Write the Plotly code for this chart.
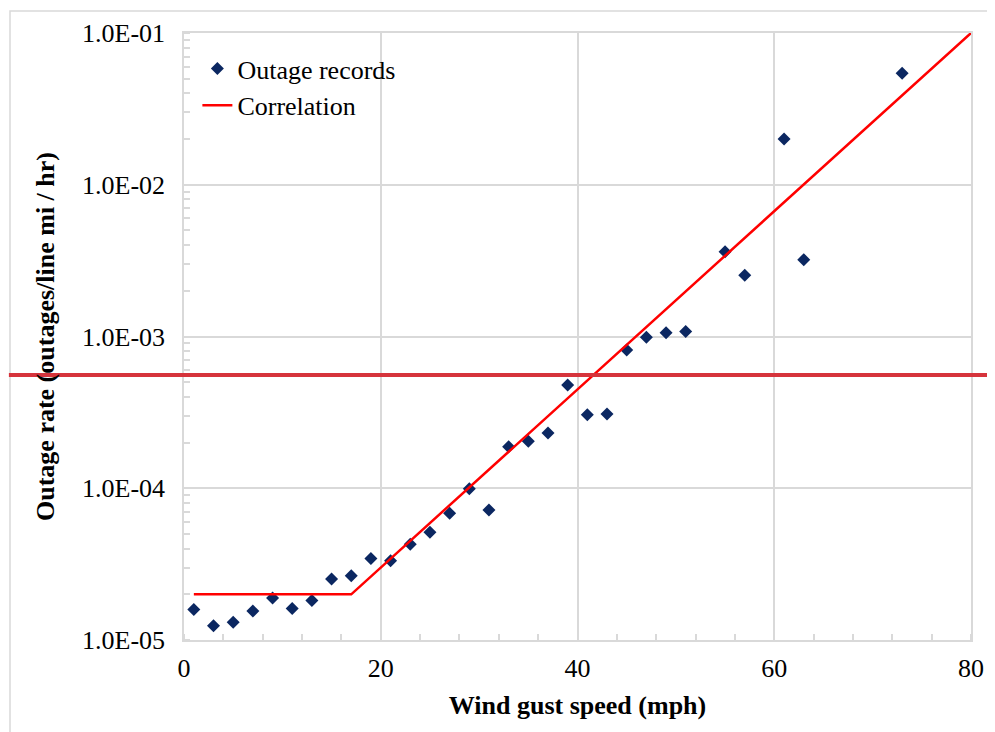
import math
import plotly.graph_objects as go

# ---- data ----
wind_speed = [1, 3, 5, 7, 9, 11, 13, 15, 17, 19, 21, 23, 25, 27, 29, 31, 33, 35, 37, 39,
              41, 43, 45, 47, 49, 51, 55, 57, 61, 63, 73]
outage_rate = [1.59e-5, 1.24e-5, 1.31e-5, 1.55e-5, 1.89e-5, 1.61e-5, 1.82e-5, 2.52e-5,
               2.65e-5, 3.44e-5, 3.33e-5, 4.27e-5, 5.13e-5, 6.84e-5, 9.93e-5, 7.19e-5,
               1.88e-4, 2.04e-4, 2.31e-4, 4.79e-4, 3.05e-4, 3.08e-4, 8.15e-4, 9.89e-4,
               1.06e-3, 1.08e-3, 3.62e-3, 2.53e-3, 2.0e-2, 3.21e-3, 5.42e-2]
corr_x = [1, 17, 80]
corr_y = [2.0e-5, 2.0e-5, 1.0e-1]
threshold = 5.57e-4

y_tickvals = [1e-5, 1e-4, 1e-3, 1e-2, 1e-1]
y_ticktext = ["1.0E-05", "1.0E-04", "1.0E-03", "1.0E-02", "1.0E-01"]
x_tickvals = [0, 20, 40, 60, 80]

FONT = "Liberation Serif"
GRID = "#d9d9d9"
FS = 26

fig = go.Figure()
fig.add_trace(go.Scatter(
    x=wind_speed, y=outage_rate, mode="markers", name="Outage records",
    marker=dict(symbol="diamond", size=10, color="#0b2761"),
))
fig.add_trace(go.Scatter(
    x=corr_x, y=corr_y, mode="lines", name="Correlation",
    line=dict(color="#ff0000", width=2.5),
))

ymin, ymax = -5, -1
thr_frac = (math.log10(threshold) - ymin) / (ymax - ymin)

shapes = [
    # outer frame (partially cropped)
    dict(type="rect", xref="paper", yref="paper", x0=-0.2211, x1=1.2, y0=-0.3, y1=1.0362,
         line=dict(color=GRID, width=1.5), fillcolor="rgba(0,0,0,0)", layer="below"),
    # threshold line across the whole picture
    dict(type="line", xref="paper", yref="paper", x0=-0.2225, x1=1.1, y0=thr_frac, y1=thr_frac,
         line=dict(color="#d6343c", width=4)),
]

fig.update_layout(
    width=995, height=732,
    margin=dict(l=176, r=32, t=25, b=100),
    paper_bgcolor="white", plot_bgcolor="white",
    font=dict(family=FONT, size=FS, color="black"),
    showlegend=True,
    legend=dict(x=0.017, y=0.98, xanchor="left", yanchor="top",
                bgcolor="rgba(0,0,0,0)", font=dict(size=FS, family=FONT)),
    shapes=shapes,
    xaxis=dict(
        range=[0, 80], tickvals=x_tickvals, ticks="", showgrid=True, gridcolor=GRID, gridwidth=1.5,
        showline=True, linecolor=GRID, linewidth=1.5, mirror=True, zeroline=False,
        tickfont=dict(size=FS, family=FONT), ticklabelstandoff=4,
        minor=dict(dtick=4, ticks="inside", ticklen=6, tickcolor=GRID, tickwidth=1.5, showgrid=False),
        title=dict(text="<b>Wind gust speed (mph)</b>", font=dict(size=FS, family=FONT), standoff=14),
    ),
    yaxis=dict(
        type="log", range=[ymin, ymax], tickvals=y_tickvals, ticktext=y_ticktext, ticks="",
        showgrid=True, gridcolor=GRID, gridwidth=1.5,
        showline=True, linecolor=GRID, linewidth=1.5, mirror=True, zeroline=False,
        tickfont=dict(size=FS, family=FONT), ticklabelstandoff=12,
        minor=dict(dtick="D1", ticks="inside", ticklen=6, tickcolor=GRID, tickwidth=1.5, showgrid=False),
        title=dict(text="<b>Outage rate (outages/line mi / hr)</b>", font=dict(size=FS, family=FONT),
                   standoff=20),
    ),
)

fig.write_html("out.html")
